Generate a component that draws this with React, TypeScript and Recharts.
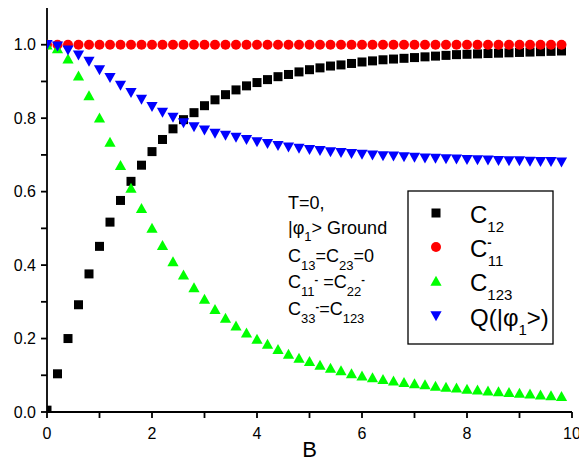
import React from 'react';
import { ScatterChart, Scatter, XAxis, YAxis } from 'recharts';

const B = [
  0, 0.2, 0.4, 0.6, 0.8, 1.0, 1.2, 1.4, 1.6, 1.8,
  2.0, 2.2, 2.4, 2.6, 2.8, 3.0, 3.2, 3.4, 3.6, 3.8,
  4.0, 4.2, 4.4, 4.6, 4.8, 5.0, 5.2, 5.4, 5.6, 5.8,
  6.0, 6.2, 6.4, 6.6, 6.8, 7.0, 7.2, 7.4, 7.6, 7.8,
  8.0, 8.2, 8.4, 8.6, 8.8, 9.0, 9.2, 9.4, 9.6, 9.8,
];

const C12 = [
  0.005, 0.104, 0.200, 0.292, 0.376, 0.451, 0.517, 0.576, 0.628, 0.672,
  0.709, 0.742, 0.771, 0.796, 0.815, 0.834, 0.850, 0.864, 0.877, 0.888,
  0.897, 0.905, 0.913, 0.919, 0.926, 0.932, 0.937, 0.942, 0.945, 0.949,
  0.953, 0.956, 0.959, 0.961, 0.963, 0.965, 0.967, 0.969, 0.971, 0.973,
  0.974, 0.975, 0.976, 0.977, 0.978, 0.979, 0.980, 0.981, 0.982, 0.983,
];

const C11 = [
  1, 1, 1, 1, 1, 1, 1, 1, 1, 1,
  1, 1, 1, 1, 1, 1, 1, 1, 1, 1,
  1, 1, 1, 1, 1, 1, 1, 1, 1, 1,
  1, 1, 1, 1, 1, 1, 1, 1, 1, 1,
  1, 1, 1, 1, 1, 1, 1, 1, 1, 1,
];

const C123 = [
  1.000, 0.990, 0.962, 0.916, 0.862, 0.801, 0.735, 0.672, 0.610, 0.555,
  0.501, 0.454, 0.410, 0.374, 0.339, 0.308, 0.280, 0.256, 0.235, 0.216,
  0.199, 0.185, 0.171, 0.158, 0.147, 0.138, 0.128, 0.120, 0.113, 0.105,
  0.099, 0.094, 0.089, 0.085, 0.081, 0.078, 0.075, 0.071, 0.068, 0.066,
  0.063, 0.061, 0.058, 0.056, 0.054, 0.052, 0.050, 0.047, 0.045, 0.043,
];

const Q = [
  1.000, 0.996, 0.985, 0.971, 0.954, 0.931, 0.910, 0.889, 0.869, 0.851,
  0.831, 0.815, 0.802, 0.787, 0.776, 0.767, 0.758, 0.753, 0.747, 0.741,
  0.735, 0.730, 0.725, 0.721, 0.717, 0.714, 0.711, 0.708, 0.706, 0.703,
  0.701, 0.699, 0.697, 0.696, 0.694, 0.693, 0.691, 0.690, 0.689, 0.688,
  0.687, 0.686, 0.685, 0.684, 0.683, 0.683, 0.682, 0.681, 0.681, 0.680,
];

const X_TICKS = [0, 1, 2, 3, 4, 5, 6, 7, 8, 9, 10];
const Y_TICKS = [0, 0.1, 0.2, 0.3, 0.4, 0.5, 0.6, 0.7, 0.8, 0.9, 1.0];

const toData = (vals: number[]) => B.map((b, i) => ({ b, v: vals[i] }));
const dC12 = toData(C12);
const dC11 = toData(C11);
const dC123 = toData(C123);
const dQ = toData(Q);

const FONT = "'Liberation Sans', Arial, Helvetica, sans-serif";
const NARROW = "'Liberation Sans Narrow', 'Arial Narrow', 'Liberation Sans', Arial, sans-serif";
const TICK = 6;
const AXW = 1.8;
const LINE = { stroke: '#000', strokeWidth: AXW };

const isMajorX = (v: number) => Math.round(v) % 2 === 0;
const isMajorY = (v: number) => Math.round(v * 10) % 2 === 0;

const BottomLabel = (p: any) => {
  const v = p.payload.value;
  if (!isMajorX(v)) return <g />;
  return (
    <text x={p.x} y={p.y + 21} textAnchor="middle" fontSize={16} fontFamily={FONT} fill="#000">
      {String(v)}
    </text>
  );
};

const LeftLabel = (p: any) => {
  const v = p.payload.value;
  if (!isMajorY(v)) return <g />;
  return (
    <text x={p.x - 5} y={p.y + 5.5} textAnchor="end" fontSize={16} fontFamily={FONT} fill="#000">
      {Number(v).toFixed(1)}
    </text>
  );
};

const SquareShape = (p: any) => <rect x={p.cx - 4.5} y={p.cy - 4.5} width={9} height={9} fill="#000000" />;
const CircleShape = (p: any) => <circle cx={p.cx} cy={p.cy} r={5} fill="#ff0000" />;
const TriUpShape = (p: any) => (
  <path d={`M${p.cx},${p.cy - 5.2} L${p.cx + 5.6},${p.cy + 4.8} L${p.cx - 5.6},${p.cy + 4.8} Z`} fill="#00ff00" />
);
const TriDownShape = (p: any) => (
  <path d={`M${p.cx - 5.6},${p.cy - 4.8} L${p.cx + 5.6},${p.cy - 4.8} L${p.cx},${p.cy + 5.2} Z`} fill="#0000ff" />
);

const Overlay = () => {
  const lx = 436;
  const tx = 470;
  const rows = [213, 247, 281, 316];
  return (
    <svg
      width={579}
      height={461}
      style={{ position: 'absolute', left: 0, top: 0, pointerEvents: 'none' }}
      fontFamily={FONT}
    >
      {/* annotation */}
      <g fill="#000" fontSize={18}>
        <text x={288} y={209}>T=0,</text>
        <text x={288} y={234}>
          |φ<tspan fontSize={13} fontFamily={NARROW} dy={7}>1</tspan>
          <tspan dy={-7}>{'> Ground'}</tspan>
        </text>
        <text x={288} y={262}>
          C<tspan fontSize={13} fontFamily={NARROW} dy={8}>13</tspan>
          <tspan dy={-8}>=C</tspan>
          <tspan fontSize={13} fontFamily={NARROW} dy={8}>23</tspan>
          <tspan dy={-8}>=0</tspan>
        </text>
        <text x={288} y={288}>
          C<tspan fontSize={13} fontFamily={NARROW} dy={8}>11</tspan>
          <tspan fontSize={11} fontWeight="bold" dy={-13.5}>-</tspan>
          <tspan dy={5.5}>{' =C'}</tspan>
          <tspan fontSize={13} fontFamily={NARROW} dy={8}>22</tspan>
          <tspan fontSize={11} fontWeight="bold" dy={-13.5}>-</tspan>
        </text>
        <text x={288} y={315}>
          C<tspan fontSize={13} fontFamily={NARROW} dy={8}>33</tspan>
          <tspan fontSize={11} fontWeight="bold" dy={-13.5}>-</tspan>
          <tspan dy={5.5}>=C</tspan>
          <tspan fontSize={13} fontFamily={NARROW} dy={8}>123</tspan>
        </text>
      </g>

      {/* legend */}
      <rect x={408} y={191} width={145} height={153} fill="#ffffff" stroke="#000" strokeWidth={1.3} />
      <SquareShape cx={lx} cy={rows[0]} />
      <CircleShape cx={lx} cy={rows[1]} />
      <TriUpShape cx={lx} cy={rows[2]} />
      <TriDownShape cx={lx} cy={rows[3]} />
      <g fill="#000" fontSize={24}>
        <text x={tx} y={rows[0] + 9.5}>
          C<tspan fontSize={15} fontFamily={NARROW} dy={9}>12</tspan>
        </text>
        <text x={tx} y={rows[1] + 9.5}>
          C<tspan fontSize={13} fontWeight="bold" dy={-10}>-</tspan>
          <tspan fontSize={15} fontFamily={NARROW} dx={-4} dy={19}>11</tspan>
        </text>
        <text x={tx} y={rows[2] + 9.5}>
          C<tspan fontSize={15} fontFamily={NARROW} dy={9}>123</tspan>
        </text>
        <text x={tx} y={rows[3] + 9.5}>
          Q(|φ<tspan fontSize={15} fontFamily={NARROW} dy={9}>1</tspan>
          <tspan dy={-9}>{'>)'}</tspan>
        </text>
      </g>
    </svg>
  );
};

export default function App() {
  return (
    <div style={{ position: 'absolute', left: 0, top: 0, width: 579, height: 461, background: '#fff' }}>
      <ScatterChart width={579} height={461} margin={{ top: 8, right: 7, bottom: 0, left: 0 }}>
        <XAxis
          xAxisId={0}
          type="number"
          dataKey="b"
          domain={[0, 10]}
          ticks={X_TICKS}
          interval={0}
          allowDataOverflow
          height={49}
          tickSize={TICK}
          tickMargin={0}
          tickLine={LINE}
          tick={BottomLabel}
          axisLine={LINE}
          label={{ value: 'B', position: 'insideBottom', offset: 4, fontSize: 22, fontFamily: FONT, fill: '#000' }}
        />
        <XAxis
          xAxisId="top"
          orientation="top"
          type="number"
          dataKey="b"
          domain={[0, 10]}
          ticks={X_TICKS}
          interval={0}
          allowDataOverflow
          height={0}
          mirror
          tickSize={TICK}
          tickMargin={0}
          tickLine={LINE}
          tick={false}
          axisLine={LINE}
        />
        <YAxis
          yAxisId={0}
          type="number"
          dataKey="v"
          domain={[0, 1.1]}
          ticks={Y_TICKS}
          interval={0}
          allowDataOverflow
          width={47}
          tickSize={TICK}
          tickMargin={0}
          tickLine={LINE}
          tick={LeftLabel}
          axisLine={LINE}
        />
        <YAxis
          yAxisId="right"
          orientation="right"
          type="number"
          dataKey="v"
          domain={[0, 1.1]}
          ticks={Y_TICKS}
          interval={0}
          allowDataOverflow
          width={0}
          mirror
          tickSize={TICK}
          tickMargin={0}
          tickLine={LINE}
          tick={false}
          axisLine={LINE}
        />
        <Scatter name="C12" data={dC12} shape={SquareShape} isAnimationActive={false} />
        <Scatter name="C11" data={dC11} shape={CircleShape} isAnimationActive={false} />
        <Scatter name="C123" data={dC123} shape={TriUpShape} isAnimationActive={false} />
        <Scatter name="Q" data={dQ} shape={TriDownShape} isAnimationActive={false} />
      </ScatterChart>
      <Overlay />
    </div>
  );
}
